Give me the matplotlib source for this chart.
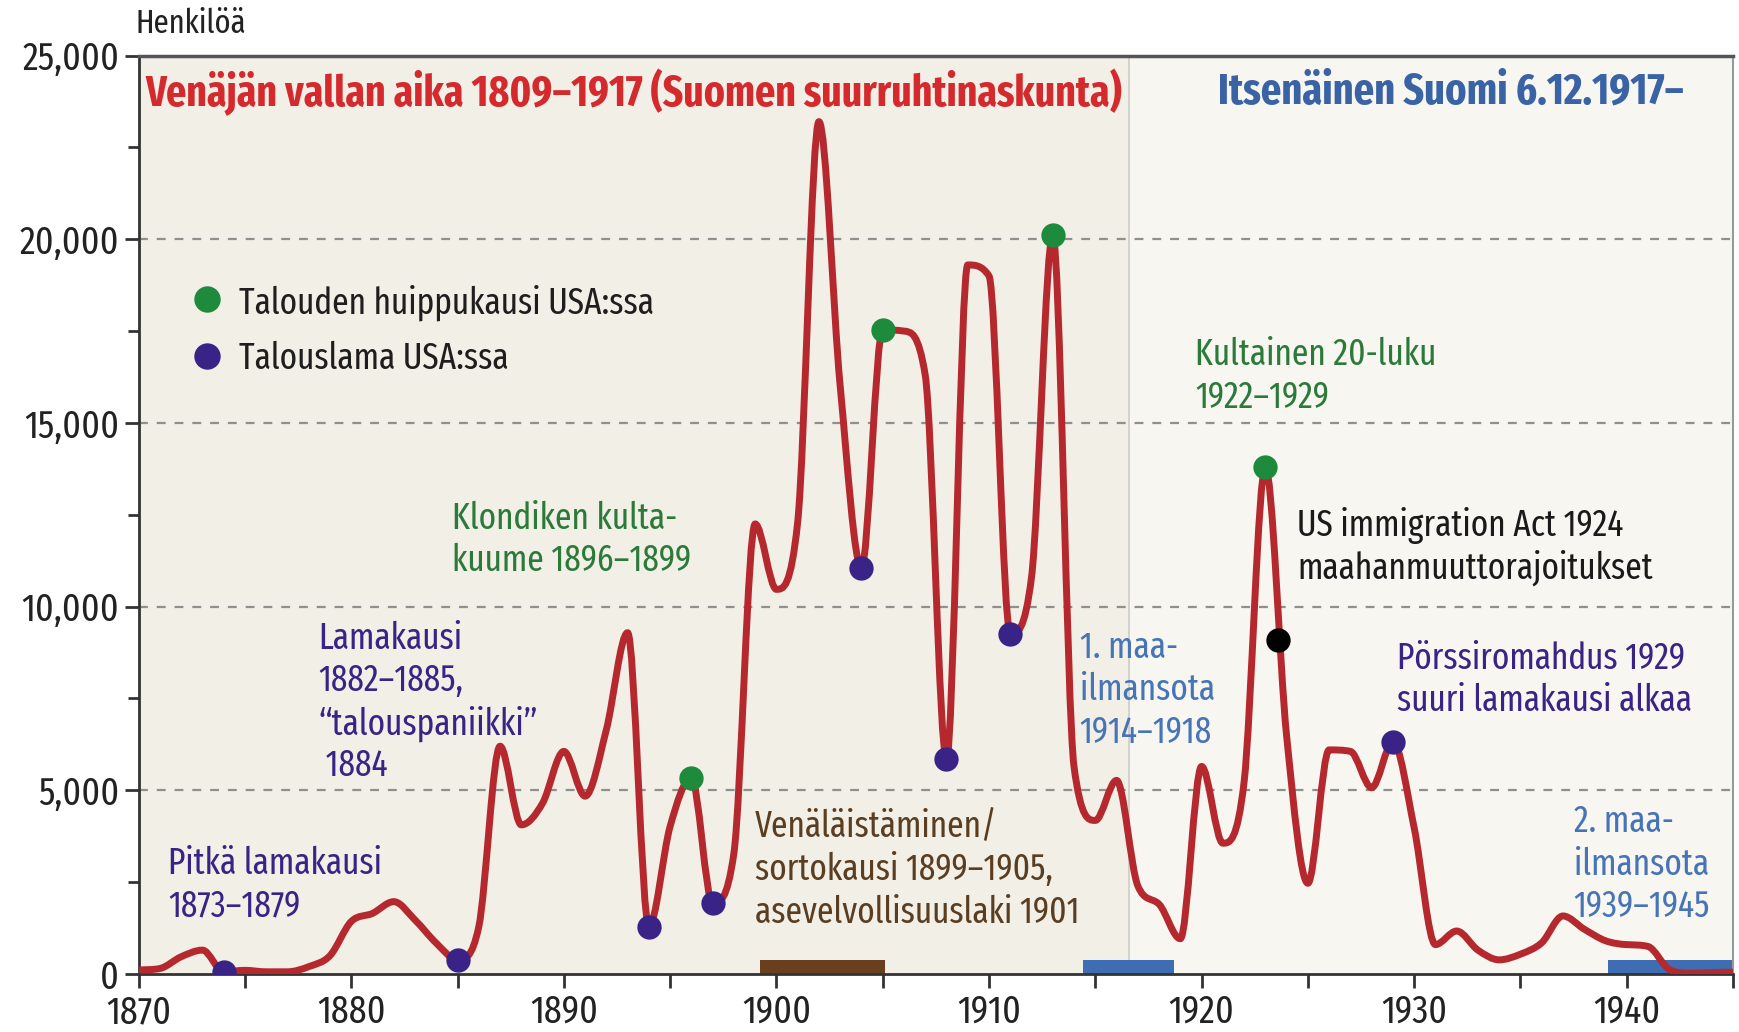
import matplotlib
matplotlib.use("Agg")
import matplotlib.pyplot as plt
import numpy as np
from matplotlib.path import Path
from matplotlib.patches import PathPatch

plt.rcParams["font.family"] = ["Fira Sans Extra Condensed", "PT Sans Narrow", "DejaVu Sans"]

# Siirtolaisuus vuosittain (henkilöä), luettu kuvasta
years = np.arange(1870, 1946)
emigrants = [110, 150, 470, 650, 60, 100, 60, 60, 200, 500,
             1430, 1650, 1970, 1470, 840, 380, 1290, 6200, 4060, 4650,
             6060, 4840, 6650, 9290, 1290, 4020, 5340, 1930, 3290, 12250,
             10470, 12300, 23200, 16000, 11050, 17540, 17500, 16300, 5840, 19300,
             19000, 9260, 10800, 20120, 5640, 4180, 5270, 2400, 1900, 960,
             5650, 3560, 5230, 13790, 6480, 2470, 6100, 6060, 5070, 6320,
             3980, 800, 1170, 650, 385, 540, 850, 1580, 1220, 905,
             800, 750, 125, 20, 40, 50]

boom_years = [1896, 1905, 1913, 1923]
slump_years = [1874, 1885, 1894, 1897, 1904, 1908, 1911, 1929]
act_year = [1923.6]
act_value = [9100]

era_edges = [1870, 1916.6, 1945]
oppression_span = (1899.25, 1905.1)
war_spans = [(1914.4, 1918.7), (1939.1, 1945)]

y_ticks = [0, 5000, 10000, 15000, 20000, 25000]
x_ticks = list(range(1870, 1946, 5))

RED = "#b5282e"
GREEN = "#1e8a3b"
PURPLE = "#3a2387"
BLUE_T = "#4674b6"
BLUE_BAR = "#3f6db3"
BROWN = "#6a3f1e"


def smooth_path(x, y):
    # monotoninen kuutiollinen käyrä (Fritsch-Carlson), ei yliheittoja
    x = np.asarray(x, float)
    y = np.asarray(y, float)
    h = np.diff(x)
    d = np.diff(y) / h
    m = np.zeros(len(y))
    m[0], m[-1] = d[0], d[-1]
    for k in range(1, len(y) - 1):
        if d[k - 1] * d[k] > 0:
            m[k] = (d[k - 1] + d[k]) / 2
    for k in range(len(d)):
        if d[k] == 0:
            m[k] = m[k + 1] = 0
            continue
        a, b = m[k] / d[k], m[k + 1] / d[k]
        s = a * a + b * b
        if s > 9:
            t = 3 / np.sqrt(s)
            m[k], m[k + 1] = t * a * d[k], t * b * d[k]
    verts = [(x[0], y[0])]
    codes = [Path.MOVETO]
    for i in range(len(y) - 1):
        verts += [(x[i] + h[i] / 3, y[i] + m[i] * h[i] / 3),
                  (x[i + 1] - h[i] / 3, y[i + 1] - m[i + 1] * h[i] / 3),
                  (x[i + 1], y[i + 1])]
        codes += [Path.CURVE4] * 3
    return Path(verts, codes)


fig = plt.figure(figsize=(17.4, 10.32), dpi=100)
ax = fig.add_axes([0.0797, 0.0562, 0.9163, 0.890])
ax.set_xlim(1870, 1945)
ax.set_ylim(0, 25000)

# taustat: Venäjän vallan aika / itsenäinen Suomi
ax.axvspan(era_edges[0], era_edges[1], color="#f2efe6", zorder=0, lw=0)
ax.axvspan(era_edges[1], era_edges[2], color="#f7f6f1", zorder=0, lw=0)
ax.axvline(era_edges[1], color="#cfcfcc", lw=1.3, zorder=1)

for v in y_ticks[1:-1]:
    ax.axhline(v, color="#8f8f8f", lw=1.6, ls=(0, (4, 4)), zorder=1)

# jaksopalkit alareunassa
ax.bar(oppression_span[0], 380, width=oppression_span[1] - oppression_span[0],
       align="edge", color=BROWN, zorder=2)
for a, b in war_spans:
    ax.bar(a, 380, width=b - a, align="edge", color=BLUE_BAR, zorder=2)

ax.add_patch(PathPatch(smooth_path(years, emigrants), fill=False, edgecolor=RED,
                       lw=5, capstyle="round", joinstyle="round", zorder=3))

lookup = dict(zip(years.tolist(), emigrants))
ax.plot(boom_years, [lookup[y] for y in boom_years], "o", color=GREEN, ms=17.5, mec="none", zorder=4)
ax.plot(slump_years, [lookup[y] for y in slump_years], "o", color=PURPLE, ms=17.5, mec="none", zorder=4)
ax.plot(act_year, act_value, "o", color="black", ms=17.5, mec="none", zorder=4)

# selite
ax.plot([1873.2], [18360], "o", color=GREEN, ms=19, mec="none", zorder=4)
ax.plot([1873.2], [16820], "o", color=PURPLE, ms=19, mec="none", zorder=4)
ax.text(1874.7, 18280, "Talouden huippukausi USA:ssa", fontsize=26, va="center", color="#1e1e1e")
ax.text(1874.7, 16740, "Talouslama USA:ssa", fontsize=26, va="center", color="#1e1e1e")

ax.text(1870.3, 24000, "Venäjän vallan aika 1809–1917 (Suomen suurruhtinaskunta)",
        fontsize=31, fontweight="bold", color="#d42a2e", va="center")
ax.text(1920.75, 24000, "Itsenäinen Suomi 6.12.1917–",
        fontsize=31.5, fontweight="bold", color="#3a63a6", va="center")

# huomautukset: (x, ensimmäisen rivin korkeus, rivit, väri)
notes = [
    (1871.4, 3000, ["Pitkä lamakausi", "1873–1879"], PURPLE),
    (1878.45, 9140, ["Lamakausi", "1882–1885,", "“talouspaniikki”", " 1884"], PURPLE),
    (1884.75, 12400, ["Klondiken kulta-", "kuume 1896–1899"], "#2c7a3a"),
    (1898.97, 4000, ["Venäläistäminen/", "sortokausi 1899–1905,", "asevelvollisuuslaki 1901"], "#5a3e22"),
    (1914.26, 8890, ["1. maa-", "ilmansota", "1914–1918"], BLUE_T),
    (1919.7, 16860, ["Kultainen 20-luku", "1922–1929"], "#2c7a3a"),
    (1924.5, 12210, ["US immigration Act 1924", "maahanmuuttorajoitukset"], "#1a1a1a"),
    (1929.2, 8590, ["Pörssiromahdus 1929", "suuri lamakausi alkaa"], PURPLE),
    (1937.5, 4150, ["2. maa-", "ilmansota", "1939–1945"], BLUE_T),
]
pitch = 1160
for x, y0, lines, c in notes:
    for i, s in enumerate(lines):
        ax.text(x, y0 - i * pitch, s, fontsize=26, color=c, va="center", ha="left", zorder=5)

ax.set_yticks(y_ticks)
ax.set_yticklabels([f"{v:,}" for v in y_ticks])
ax.set_yticks(np.arange(2500, 25000, 5000), minor=True)
ax.set_xticks(x_ticks)
ax.set_xticklabels([str(t) if t % 10 == 0 else "" for t in x_ticks])
ax.tick_params(axis="both", which="major", direction="out", length=10, width=2,
               color="#333", labelsize=28, labelcolor="#222", pad=4)
ax.tick_params(axis="y", which="minor", direction="out", length=8, width=2, color="#333")

for side in ["left", "bottom"]:
    ax.spines[side].set_color("#333")
    ax.spines[side].set_linewidth(2)
ax.spines["top"].set_color("#555")
ax.spines["top"].set_linewidth(2.5)
ax.spines["right"].set_color("#999")
ax.spines["right"].set_linewidth(1.5)

fig.text(0.078, 0.977, "Henkilöä", fontsize=24, va="center", ha="left", color="#222")

fig.savefig("out.png", dpi=100, facecolor="white")
